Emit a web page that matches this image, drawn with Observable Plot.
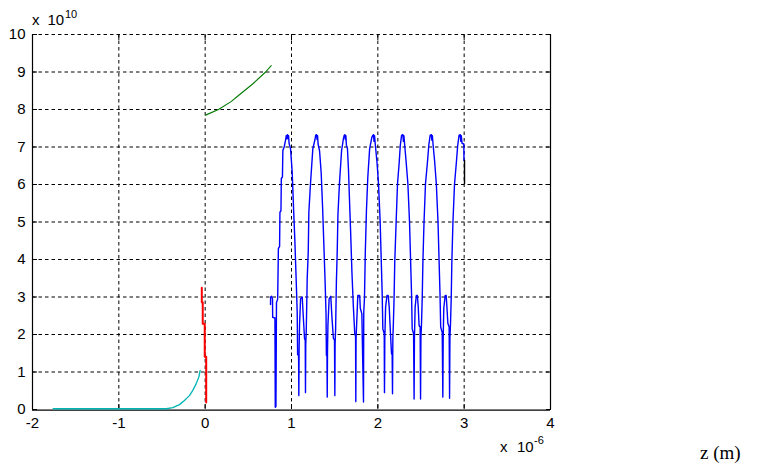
<!DOCTYPE html>
<html>
<head>
<meta charset="utf-8">
<script src="https://cdn.jsdelivr.net/npm/d3@7"></script>
<script src="https://cdn.jsdelivr.net/npm/@observablehq/plot@0.6"></script>
<style>
  body { margin: 0; background: #fff; }
  #chart svg { display: block; }
</style>
</head>
<body>
<div id="chart"></div>
<script>
// Axis ticks (x in units of 1e-6 m, y in units of 1e10)
const xTicks = [-2, -1, 0, 1, 2, 3, 4];
const yTicks = [0, 1, 2, 3, 4, 5, 6, 7, 8, 9, 10];
const xGrid = [-1, 0, 1, 2, 3];
const yGrid = [1, 2, 3, 4, 5, 6, 7, 8, 9, 10];

// Cyan series
const cyan = [
  [-1.76, 0.02], [-0.45, 0.02], [-0.375, 0.05], [-0.298, 0.13], [-0.24, 0.24],
  [-0.182, 0.37], [-0.143, 0.51], [-0.104, 0.69], [-0.074, 0.86], [-0.058, 1.04]
];

// Red series
const red = [
  [-0.039, 3.25], [-0.039, 2.86], [-0.028, 2.86], [-0.028, 2.29],
  [-0.005, 2.29], [-0.005, 1.41], [0.012, 1.41], [0.012, 0.19]
];

// Green series
const green = [
  [0.004, 7.85], [0.154, 8.0], [0.3, 8.21], [0.4, 8.4], [0.55, 8.68], [0.7, 9.0], [0.765, 9.17]
];

// Blue series
const blue = [
  [0.757, 2.80], [0.758, 3.00], [0.770, 3.02], [0.780, 2.95], [0.782, 2.46], [0.808, 2.44],
  [0.812, 0.06], [0.820, 0.08], [0.826, 2.85], [0.840, 2.95], [0.848, 4.29], [0.862, 4.35],
  [0.866, 5.26], [0.878, 5.30], [0.882, 6.16], [0.895, 6.20], [0.900, 6.91], [0.915, 7.00],
  [0.930, 7.17], [0.940, 7.31], [0.946, 7.22],
  [0.954, 7.33], [0.960, 7.22], [0.966, 7.30], [0.972, 7.10], [0.989, 6.95], [1.008, 6.33],
  [1.024, 5.35], [1.039, 4.50], [1.055, 3.40], [1.066, 2.60], [1.071, 1.46], [1.082, 1.44],
  [1.085, 0.37], [1.088, 1.60], [1.093, 2.24], [1.105, 2.95], [1.124, 3.00], [1.136, 2.50],
  [1.151, 1.89], [1.159, 1.85], [1.162, 0.45], [1.165, 1.70], [1.171, 2.10], [1.182, 3.49],
  [1.194, 4.20], [1.201, 5.26], [1.221, 6.06], [1.247, 6.95], [1.272, 7.20], [1.280, 7.31],
  [1.290, 7.33], [1.296, 7.20], [1.302, 7.30], [1.308, 7.08], [1.325, 6.90], [1.344, 6.30],
  [1.360, 5.40], [1.374, 4.45], [1.390, 3.35], [1.400, 2.55], [1.404, 1.45], [1.411, 1.42],
  [1.414, 0.33], [1.417, 1.55], [1.422, 2.25], [1.436, 2.95], [1.455, 3.02], [1.468, 2.48],
  [1.485, 1.90], [1.498, 1.85], [1.502, 0.37], [1.505, 1.75], [1.511, 2.15], [1.520, 3.40],
  [1.530, 4.25], [1.538, 5.20], [1.556, 6.05], [1.580, 6.90], [1.600, 7.20], [1.610, 7.31],
  [1.618, 7.33], [1.624, 7.20], [1.630, 7.30], [1.636, 7.05], [1.648, 6.96], [1.660, 6.40],
  [1.670, 5.70], [1.685, 4.73], [1.700, 3.66], [1.716, 2.77], [1.733, 2.00], [1.742, 1.97],
  [1.745, 0.21], [1.748, 1.90], [1.755, 2.30], [1.768, 3.04], [1.790, 3.04], [1.797, 2.70],
  [1.815, 2.55], [1.826, 1.17], [1.834, 0.20], [1.837, 2.60], [1.845, 2.95], [1.855, 4.20],
  [1.868, 5.30], [1.884, 6.20], [1.905, 6.95], [1.930, 7.25], [1.942, 7.31],
  [1.950, 7.33], [1.956, 7.15], [1.962, 7.30], [1.970, 7.08], [1.990, 6.60], [2.008, 6.02],
  [2.027, 5.00], [2.039, 4.02], [2.050, 3.13], [2.058, 2.15], [2.074, 2.02], [2.077, 0.45],
  [2.081, 1.90], [2.090, 2.73], [2.106, 3.04], [2.120, 3.04], [2.132, 2.73], [2.142, 2.24],
  [2.158, 1.50], [2.166, 1.45], [2.170, 0.42], [2.174, 1.90], [2.180, 2.29], [2.188, 2.95],
  [2.196, 3.93], [2.212, 5.00], [2.228, 6.02], [2.248, 6.60], [2.260, 7.04], [2.275, 7.31],
  [2.290, 7.33], [2.296, 7.15], [2.302, 7.30], [2.310, 7.08], [2.328, 6.60], [2.348, 6.02],
  [2.367, 5.00], [2.379, 4.02], [2.390, 3.13], [2.398, 2.15], [2.414, 2.02], [2.420, 0.28],
  [2.424, 1.90], [2.432, 2.73], [2.446, 3.04], [2.458, 3.04], [2.468, 2.73], [2.478, 2.24],
  [2.490, 2.20], [2.495, 0.28], [2.499, 1.90], [2.506, 2.29], [2.514, 2.95], [2.522, 3.93],
  [2.535, 5.00], [2.552, 6.02], [2.575, 6.60], [2.590, 7.04], [2.606, 7.31],
  [2.620, 7.33], [2.626, 7.18], [2.632, 7.30], [2.640, 7.06], [2.658, 6.62], [2.678, 6.00],
  [2.697, 5.00], [2.709, 4.00], [2.720, 3.10], [2.728, 2.20], [2.746, 2.05], [2.753, 0.33],
  [2.757, 1.90], [2.764, 2.70], [2.780, 3.04], [2.792, 3.04], [2.801, 2.70], [2.811, 2.30],
  [2.826, 2.20], [2.831, 0.30], [2.835, 1.90], [2.842, 2.30], [2.850, 2.95], [2.857, 3.90],
  [2.870, 5.00], [2.888, 6.00], [2.910, 6.60], [2.925, 7.04], [2.941, 7.31],
  [2.955, 7.33], [2.961, 7.15], [2.967, 7.30], [2.975, 7.10], [2.996, 7.08], [2.998, 6.64]
];

// Black segment at the end
const black = [[3.004, 6.64], [3.004, 6.03]];

const line = (data, stroke, strokeWidth) =>
  Plot.line(data, {x: d => d[0], y: d => d[1], stroke, strokeWidth, curve: "linear"});

const dash = "3.5,3";
const fmt = d => String(d); // plain hyphen-minus like the original

const chart = Plot.plot({
  width: 765,
  height: 474,
  marginLeft: 32,
  marginRight: 215,
  marginTop: 34,
  marginBottom: 65,
  x: {domain: [-2, 4], ticks: xTicks},
  y: {domain: [0, 10], ticks: yTicks},
  style: {fontFamily: "'Liberation Sans', Arial, sans-serif", fontSize: "15px", background: "white", color: "black"},
  marks: [
    Plot.ruleX(xGrid, {stroke: "black", strokeWidth: 1, strokeDasharray: dash}),
    Plot.ruleY(yGrid, {stroke: "black", strokeWidth: 1, strokeDasharray: dash}),
    Plot.ruleX([-2, 4], {stroke: "black", strokeWidth: 1.2}),
    Plot.ruleY([0], {stroke: "black", strokeWidth: 1.2, dy: 0.6}),
    // inward tick marks
    Plot.axisX(xTicks, {anchor: "bottom", tickSize: 5, dy: -5, fill: "none", label: null}),
    Plot.axisX(xTicks, {anchor: "top", tickSize: 5, dy: 5, fill: "none", label: null}),
    Plot.axisY(yTicks, {anchor: "left", tickSize: 5, dx: 5, fill: "none", label: null}),
    Plot.axisY(yTicks, {anchor: "right", tickSize: 5, dx: -5, fill: "none", label: null}),
    // data
    line(cyan, "#00b4b4", 1.3),
    line(green, "#007a00", 1.1),
    line(blue, "#0000ff", 1.4),
    line(black, "#000000", 1.4),
    line(red, "#ff0000", 2),
    // tick labels
    Plot.axisX(xTicks, {anchor: "bottom", tickSize: 0, tickPadding: 8, fontSize: 15, tickFormat: fmt, label: null}),
    Plot.axisY(yTicks, {anchor: "left", tickSize: 0, tickPadding: 7, fontSize: 15, tickFormat: fmt, label: null})
  ]
});

document.getElementById("chart").appendChild(chart);

// Exponent annotations and axis label
const svg = d3.select(chart);
const sans = "'Liberation Sans', Arial, sans-serif";
const topExp = svg.append("text").attr("text-anchor", "start").attr("font-family", sans).attr("font-size", 15).attr("fill", "black");
topExp.append("tspan").attr("x", 32).attr("y", 25).text("x");
topExp.append("tspan").attr("x", 47.5).attr("y", 25).text("10");
topExp.append("tspan").attr("x", 65).attr("y", 17.5).attr("font-size", 11).text("10");

const botExp = svg.append("text").attr("text-anchor", "start").attr("font-family", sans).attr("font-size", 15).attr("fill", "black");
botExp.append("tspan").attr("x", 500).attr("y", 452).text("x");
botExp.append("tspan").attr("x", 517).attr("y", 452).text("10");
botExp.append("tspan").attr("x", 534).attr("y", 443.5).attr("font-size", 11).text("-6");

svg.append("text")
  .attr("text-anchor", "start")
  .attr("x", 700).attr("y", 459)
  .attr("font-family", "'Liberation Serif', 'Times New Roman', serif")
  .attr("font-size", 19)
  .attr("fill", "black")
  .text("z (m)");
</script>
</body>
</html>
